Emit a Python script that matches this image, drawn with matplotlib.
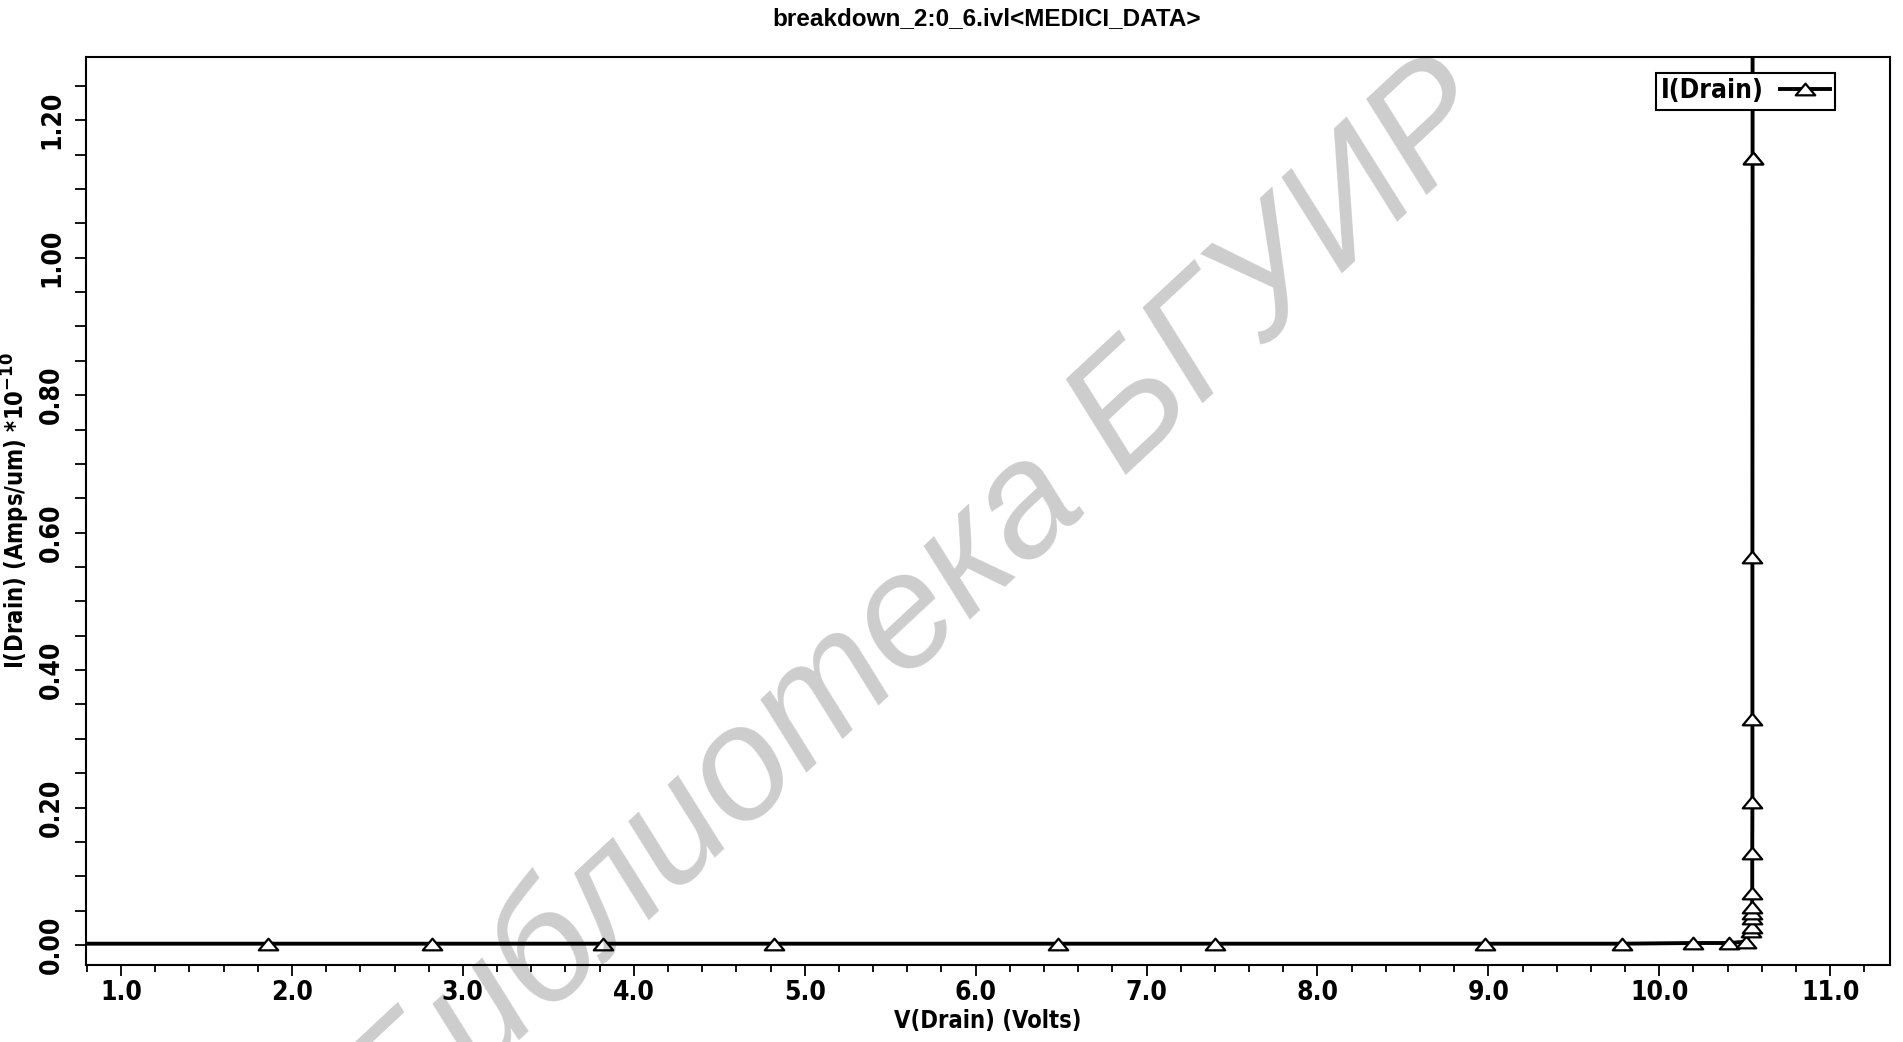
import matplotlib
matplotlib.use("Agg")
import matplotlib.pyplot as plt
from matplotlib.path import Path
from matplotlib.ticker import MultipleLocator, FormatStrFormatter

# drain sweep: V(Drain) in volts, I(Drain) in units of 1e-10 A/um
v_drain = [0.0, 1.86, 2.82, 3.82, 4.82, 6.48, 7.40, 8.98, 9.78, 10.20, 10.41,
           10.51, 10.535, 10.540, 10.542, 10.543, 10.543, 10.544, 10.544,
           10.545, 10.545, 10.545, 10.546, 10.546, 10.546]
i_drain = [0.002, 0.002, 0.002, 0.002, 0.002, 0.002, 0.002, 0.002, 0.002, 0.003, 0.003,
           0.005, 0.020, 0.026, 0.039, 0.046, 0.056, 0.076, 0.134,
           0.208, 0.329, 0.564, 1.145, 1.145, 1.950]

title = "breakdown_2:0_6.ivl<MEDICI_DATA>"
xlabel = "V(Drain) (Volts)"
ylabel = r"I(Drain) (Amps/um) *10$^{\mathbf{-10}}$"
series_name = "I(Drain)"
stamp = "Библиотека БГУИР"

narrow = dict(family="DejaVu Sans", fontstretch="condensed", fontweight="bold")

fig = plt.figure(figsize=(19.03, 10.42), dpi=100)
ax = fig.add_axes([86 / 1903, 1 - 965 / 1042, 1804 / 1903, 908 / 1042])

# open flat triangle
tri = Path([(-1, -0.6), (1, -0.6), (0, 0.6), (-1, -0.6)],
           [Path.MOVETO, Path.LINETO, Path.LINETO, Path.CLOSEPOLY])

ax.plot(v_drain, i_drain, color="black", lw=2.8, marker=tri, ms=14,
        mfc="white", mec="black", mew=1.6, label=series_name)

ax.set_xlim(0.795, 11.35)
ax.set_ylim(-0.029, 1.292)

ax.xaxis.set_major_locator(MultipleLocator(1.0))
ax.xaxis.set_minor_locator(MultipleLocator(0.2))
ax.yaxis.set_major_locator(MultipleLocator(0.2))
ax.yaxis.set_minor_locator(MultipleLocator(0.05))
ax.xaxis.set_major_formatter(FormatStrFormatter("%.1f"))
ax.yaxis.set_major_formatter(FormatStrFormatter("%.2f"))

ax.tick_params(axis="x", which="major", direction="out", length=8, width=1.3, pad=3)
ax.tick_params(axis="x", which="minor", direction="out", length=5, width=1.3)
ax.tick_params(axis="y", which="both", direction="out", length=8, width=1.3, pad=7)
for s in ax.spines.values():
    s.set_linewidth(1.5)

for lab in ax.get_xticklabels() + ax.get_yticklabels():
    lab.set_family("DejaVu Sans")
    lab.set_fontstretch("condensed")
    lab.set_fontweight("bold")
    lab.set_fontsize(19)
for lab in ax.get_yticklabels():
    lab.set_rotation(90)
    lab.set_va("center")

ax.set_xlabel(xlabel, fontsize=17, labelpad=2, **narrow)
ax.set_ylabel(ylabel, fontsize=17, **narrow)
ax.yaxis.set_label_coords(-0.030, 0.5)

fig.text(987 / 1903, 1 - 19 / 1042, title, ha="center", va="center",
         family=["Liberation Sans", "DejaVu Sans"], fontweight="bold", fontsize=17.5)

leg = ax.legend(loc="upper right", bbox_to_anchor=(1835 / 1903, 1 - 73 / 1042),
                bbox_transform=fig.transFigure, markerfirst=False, fancybox=False,
                framealpha=1, edgecolor="black", handlelength=1.9, handletextpad=0.6,
                borderpad=0.2, borderaxespad=0, numpoints=1,
                prop={"family": "DejaVu Sans", "stretch": "condensed",
                      "weight": "bold", "size": 19})
leg.get_frame().set_linewidth(1.5)

# library stamp across the plot
fig.text(1502 / 1903, 1 - 125 / 1042, stamp, rotation=43, rotation_mode="anchor",
         ha="right", va="baseline", fontsize=116, style="italic",
         family=["Liberation Sans", "DejaVu Sans"], color="black", alpha=0.2, zorder=10)

fig.savefig("out.png", dpi=100)
